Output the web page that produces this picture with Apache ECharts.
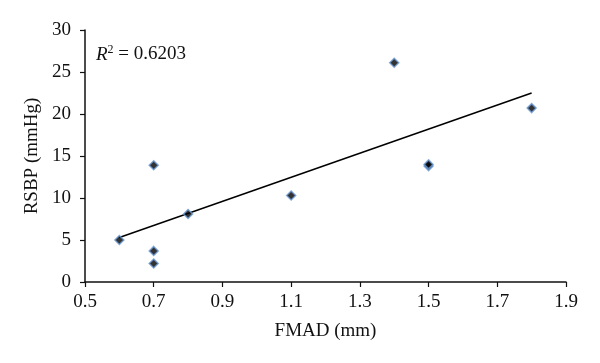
<!DOCTYPE html>
<html><head><meta charset="utf-8">
<script src="https://cdn.jsdelivr.net/npm/echarts@6/dist/echarts.min.js"></script>
<style>html,body{margin:0;padding:0;background:#fff}#c{width:600px;height:363px}</style>
</head><body><div id="c"></div>
<script>
var fmad = [0.6, 0.7, 0.7, 0.7, 0.8, 1.1, 1.4, 1.5, 1.5, 1.8];
var rsbp = [5.0, 3.7, 2.2, 13.9, 8.1, 10.3, 26.1, 13.8, 14.0, 20.7];
var trendX = [0.6, 1.8];
var trendY = [5.3, 22.5];
var r2Text = '0.6203';
var xTicks = [0.5, 0.7, 0.9, 1.1, 1.3, 1.5, 1.7, 1.9];
var yTicks = [0, 5, 10, 15, 20, 25, 30];

var pts = fmad.map(function(x, i){ return [x, rsbp[i]]; });
var trend = trendX.map(function(x, i){ return [x, trendY[i]]; });
var font = 'Liberation Serif';
var fs = 19;
var chart = echarts.init(document.getElementById('c'));
chart.setOption({
  animation: false,
  grid: {left: 85, right: 34, top: 30, bottom: 81},
  xAxis: {
    type: 'value', min: 0.5, max: 1.9, interval: 0.2,
    name: 'FMAD (mm)', nameLocation: 'middle', nameGap: 40,
    nameTextStyle: {fontFamily: font, fontSize: fs, color: '#111'},
    splitLine: {show: false},
    axisLine: {lineStyle: {color: '#111', width: 1.5}},
    axisTick: {show: true, length: 5, lineStyle: {color: '#111', width: 1.2}},
    axisLabel: {fontFamily: font, fontSize: fs, color: '#111', margin: 11,
      formatter: function(v){ return xTicks.indexOf(Math.round(v*10)/10) >= 0 ? (Math.round(v*10)/10).toFixed(1) : ''; }}
  },
  yAxis: {
    type: 'value', min: 0, max: 30, interval: 5,
    name: 'RSBP (mmHg)', nameLocation: 'middle', nameGap: 43, nameRotate: 90,
    nameTextStyle: {fontFamily: font, fontSize: fs, color: '#111'},
    splitLine: {show: false},
    axisLine: {show: true, lineStyle: {color: '#111', width: 1.5}},
    axisTick: {show: true, length: 5, lineStyle: {color: '#111', width: 1.2}},
    axisLabel: {fontFamily: font, fontSize: fs, color: '#111', margin: 14,
      formatter: function(v){ return yTicks.indexOf(v) >= 0 ? String(v) : ''; }}
  },
  series: [
    {type: 'line', data: trend, symbol: 'none', lineStyle: {color: '#000', width: 1.5}, z: 2},
    {type: 'scatter', data: pts, symbol: 'diamond', symbolSize: 9,
     itemStyle: {color: '#000', borderColor: '#6a9ad4', borderWidth: 1.5}, z: 3}
  ],
  graphic: [{
    type: 'text', left: 96, top: 44,
    style: {
      text: '{r|R}{s|2}{t| = ' + r2Text + '}',
      rich: {
        r: {fontFamily: font, fontStyle: 'italic', fontSize: fs, fill: '#111', verticalAlign: 'bottom', lineHeight: 20},
        s: {fontFamily: font, fontSize: 12, fill: '#111', verticalAlign: 'top', lineHeight: 20},
        t: {fontFamily: font, fontSize: fs, fill: '#111', verticalAlign: 'bottom', lineHeight: 20}
      }
    }
  }]
});
</script></body></html>
